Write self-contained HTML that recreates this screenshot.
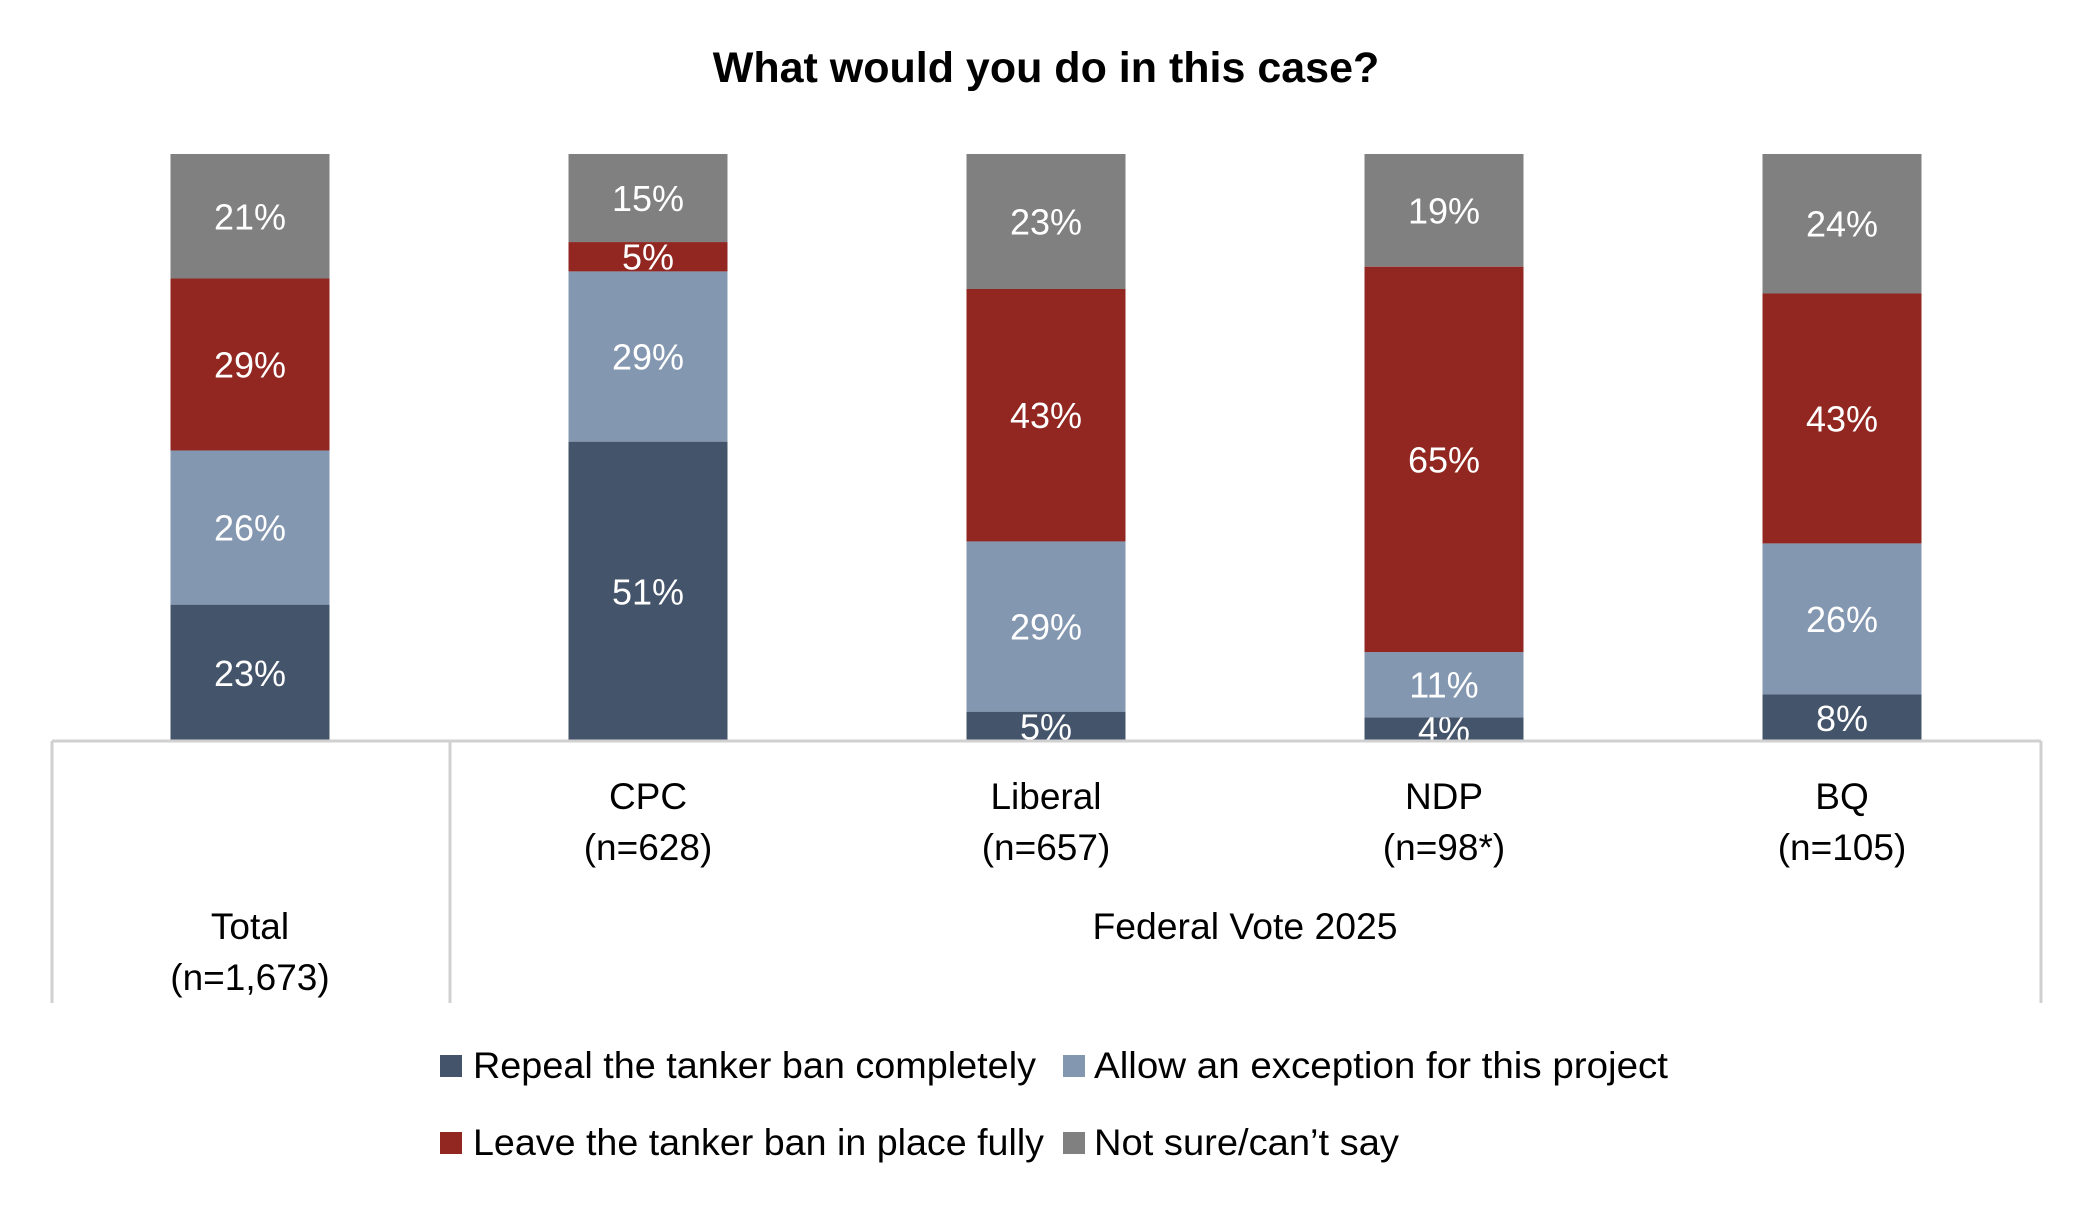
<!DOCTYPE html>
<html><head><meta charset="utf-8"><style>
body{margin:0;background:#fff;}
svg text{font-family:"Liberation Sans",sans-serif;}
</style></head><body>
<svg id="chart" width="2092" height="1204" viewBox="0 0 2092 1204" xmlns="http://www.w3.org/2000/svg">
<text x="1046" y="82" text-anchor="middle" font-size="43" font-weight="bold" fill="#000">What would you do in this case?</text>
<g id="bars"></g>
<g id="axis">
<line x1="52" y1="741" x2="2041" y2="741" stroke="#d0d0d0" stroke-width="3"/>
<line x1="52" y1="741" x2="52" y2="1003" stroke="#d0d0d0" stroke-width="3"/>
<line x1="450" y1="741" x2="450" y2="1003" stroke="#d0d0d0" stroke-width="3"/>
<line x1="2041" y1="741" x2="2041" y2="1003" stroke="#d0d0d0" stroke-width="3"/>
</g>
<g id="labels" font-size="37" fill="#000" text-anchor="middle"></g>
<text x="1245" y="939" text-anchor="middle" font-size="37" textLength="305" lengthAdjust="spacingAndGlyphs">Federal Vote 2025</text>
<g font-size="37">
<rect x="440" y="1055" width="22" height="22" fill="#44546A"/>
<text x="473" y="1078" textLength="563" lengthAdjust="spacingAndGlyphs">Repeal the tanker ban completely</text>
<rect x="1063" y="1055" width="22" height="22" fill="#8497B0"/>
<text x="1094" y="1078" textLength="574" lengthAdjust="spacingAndGlyphs">Allow an exception for this project</text>
<rect x="440" y="1132" width="22" height="22" fill="#922620"/>
<text x="473" y="1155" textLength="571" lengthAdjust="spacingAndGlyphs">Leave the tanker ban in place fully</text>
<rect x="1063" y="1132" width="22" height="22" fill="#808080"/>
<text x="1094" y="1155" textLength="305" lengthAdjust="spacingAndGlyphs">Not sure/can’t say</text>
</g>
</svg>
<script>
const categories = ["Total","CPC","Liberal","NDP","BQ"];
const sampleSizes = ["(n=1,673)","(n=628)","(n=657)","(n=98*)","(n=105)"];
const repeal = [23,51,5,4,8];
const exception = [26,29,29,11,26];
const leave = [29,5,43,65,43];
const notSure = [21,15,23,19,24];
const seriesList=[repeal,exception,leave,notSure];
const seriesNames=["repeal","exception","leave","not-sure"];
const colors=["#44546A","#8497B0","#922620","#808080"];
const NS="http://www.w3.org/2000/svg";
const top0=154,bottom0=741,bw=159,x0=250,step=398;
function xCenter(i){return x0+i*step;}
function yScale(frac){return bottom0-(bottom0-top0)*frac;}
const bars=document.getElementById('bars');
const labels=document.getElementById('labels');
categories.forEach((c,i)=>{
  const total=seriesList.reduce((s,a)=>s+a[i],0);
  let cum=0;
  seriesList.forEach((arr,k)=>{
    const v=arr[i];
    const y1=yScale(cum/total), y2=yScale((cum+v)/total);
    cum+=v;
    const r=document.createElementNS(NS,'rect');
    
    
    r.setAttribute('x',xCenter(i)-bw/2);r.setAttribute('y',y2);
    r.setAttribute('width',bw);r.setAttribute('height',y1-y2);
    r.setAttribute('fill',colors[k]);
    bars.appendChild(r);
    const t=document.createElementNS(NS,'text');
    
    
    t.setAttribute('x',xCenter(i));t.setAttribute('y',(y1+y2)/2+13);
    t.setAttribute('text-anchor','middle');t.setAttribute('font-size','36');
    t.setAttribute('fill','#fff');
    t.textContent=v+'%';
    bars.appendChild(t);
  });
  const yA=i===0?939:809, yB=i===0?990:860;
  const t1=document.createElementNS(NS,'text');
  
  
  t1.setAttribute('x',xCenter(i));t1.setAttribute('y',yA);t1.textContent=c;
  labels.appendChild(t1);
  const t2=document.createElementNS(NS,'text');
  
  
  t2.setAttribute('x',xCenter(i));t2.setAttribute('y',yB);t2.textContent=sampleSizes[i];
  labels.appendChild(t2);
});
</script>
</body></html>
